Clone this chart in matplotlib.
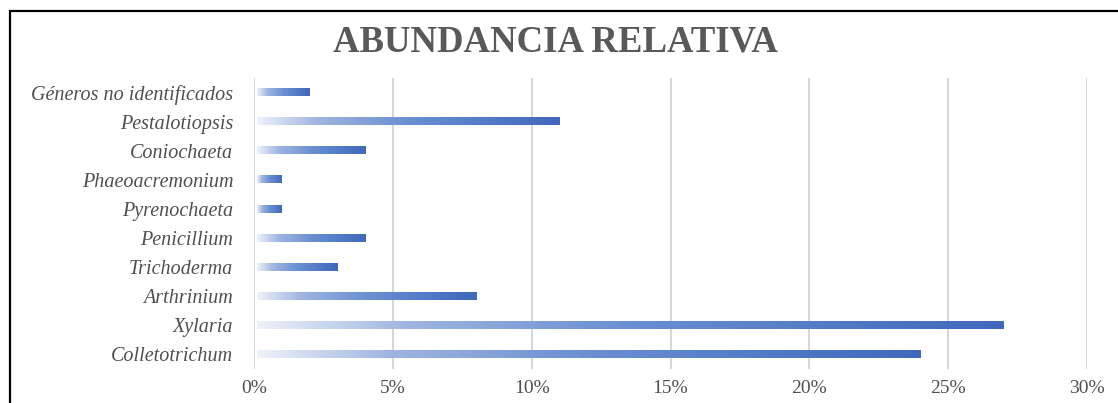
import matplotlib
matplotlib.use('Agg')
import matplotlib.pyplot as plt
from matplotlib.colors import LinearSegmentedColormap
from matplotlib.patches import Rectangle
from matplotlib.ticker import FuncFormatter
import numpy as np

generos = ['Colletotrichum', 'Xylaria', 'Arthrinium', 'Trichoderma', 'Penicillium',
           'Pyrenochaeta', 'Phaeoacremonium', 'Coniochaeta', 'Pestalotiopsis',
           'Géneros no identificados']
abundancia = [24, 27, 8, 3, 4, 1, 1, 4, 11, 2]   # %
xticks = [0, 5, 10, 15, 20, 25, 30]

TEXT = '#505050'
plt.rcParams['font.family'] = ['Liberation Serif', 'DejaVu Serif']

fig = plt.figure(figsize=(11.18, 4.03), dpi=100)
ax = fig.add_axes([0.2272, 0.0844, 0.7451, 0.7221])

# gradiente tipo Excel: casi blanco a la izquierda, azul a la derecha
cmap = LinearSegmentedColormap.from_list(
    'barra', [(0, '#eef2fa'), (0.2, '#9fb5e0'), (0.5, '#6a8fd2'), (1, '#4068bc')])
grad = np.linspace(0, 1, 256).reshape(1, -1)
h = 0.25
for i, v in enumerate(abundancia):
    ax.imshow(grad, cmap=cmap, aspect='auto', interpolation='bilinear',
              extent=(0.1, v, i - h / 2, i + h / 2), zorder=3)

ax.set_xlim(0, 30)
ax.set_ylim(-0.5, len(generos) - 0.5)
ax.set_xticks(xticks)
ax.xaxis.set_major_formatter(FuncFormatter(lambda x, _: f'{x:.0f}%'))
ax.set_yticks(range(len(generos)))
ax.set_yticklabels(generos, fontstyle='italic', fontsize=14.5, color=TEXT)
ax.tick_params(axis='x', length=0, pad=8, labelsize=14, labelcolor=TEXT)
ax.tick_params(axis='y', length=0, pad=15)
ax.grid(axis='x', color='#d0d0d0', lw=1.2, zorder=0)
ax.set_axisbelow(True)
for s in ax.spines.values():
    s.set_visible(False)

fig.text(0.4964, 0.896, 'ABUNDANCIA RELATIVA', ha='center', va='center',
         fontsize=26.5, fontweight='bold', color='#595959')

# marco negro que sale por la derecha y por abajo
fig.patches.append(Rectangle((10 / 1118, -0.1), 1.2, 0.9727 + 0.1, fill=False,
                             lw=1.6, ec='black', transform=fig.transFigure,
                             figure=fig))

fig.savefig('out.png', dpi=100)
